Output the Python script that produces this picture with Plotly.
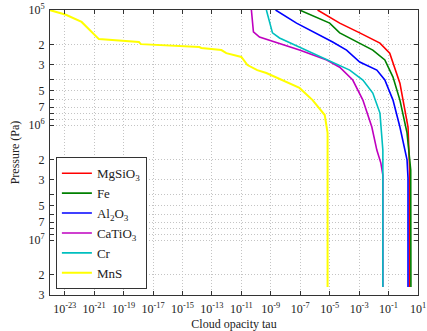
import plotly.graph_objects as go

# ---- data ----
species = ["MgSiO<sub>3</sub>", "Fe", "Al<sub>2</sub>O<sub>3</sub>", "CaTiO<sub>3</sub>", "Cr", "MnS"]
colors = ["#ff0000", "#008000", "#0000ff", "#bf00bf", "#00bfbf", "#ffff00"]

p_mgsio3 = [1.0e5, 1.30e5, 1.58e5, 1.94e5, 2.37e5, 4.32e5, 1.04e6, 2.46e6, 2.56e7]
tau_mgsio3 = [1.5e-6, 4.8e-5, 1.1e-3, 2.6e-2, 0.12, 0.59, 2.1, 2.7, 2.7]

p_fe = [1.0e5, 1.30e5, 1.58e5, 1.82e5, 2.23e5, 2.72e5, 3.83e5, 6.07e5, 1.17e6, 2.46e6, 2.56e7]
tau_fe = [8.9e-8, 1.0e-5, 4.8e-5, 3.7e-4, 8.5e-3, 5.6e-2, 0.20, 0.59, 1.8, 3.2, 3.3]

p_al2o3 = [1.0e5, 1.30e5, 1.90e5, 2.23e5, 2.83e5, 3.33e5, 4.06e5, 6.07e5, 1.04e6, 2.01e6, 2.89e6, 2.56e7]
tau_al2o3 = [2.1e-9, 5.6e-8, 1.6e-5, 1.4e-4, 1.1e-3, 1.6e-2, 5.6e-2, 0.20, 0.59, 1.8, 2.1, 2.1]

p_catio3 = [1.0e5, 1.55e5, 1.72e5, 2.23e5, 2.72e5, 3.14e5, 4.06e5, 6.07e5, 1.04e6, 1.65e6, 2.14e6, 2.72e6, 2.56e7]
tau_catio3 = [4.8e-11, 6.6e-11, 1.7e-10, 8.9e-8, 6.3e-6, 4.8e-5, 3.7e-4, 1.8e-3, 7.3e-3, 1.6e-2, 3.0e-2, 4.1e-2, 4.1e-2]

p_cr = [1.0e5, 1.58e5, 1.75e5, 2.10e5, 2.83e5, 3.33e5, 4.06e5, 5.27e5, 7.87e5, 1.17e6, 1.65e6, 2.56e7]
tau_cr = [5.0e-10, 1.3e-9, 3.9e-9, 8.9e-8, 1.6e-5, 2.3e-4, 1.8e-3, 8.5e-3, 2.6e-2, 3.5e-2, 4.1e-2, 4.1e-2]

p_mns = [1.0e5, 1.10e5, 1.27e5, 1.55e5, 1.79e5, 1.90e5, 1.98e5, 2.10e5, 2.14e5, 2.23e5, 2.37e5,
         2.56e5, 3.01e5, 3.33e5, 3.53e5, 4.76e5, 6.07e5, 8.18e5, 1.17e6, 2.56e7]
tau_mns = [9.5e-25, 1.2e-23, 1.4e-22, 6.9e-22, 2.1e-21, 1.1e-18, 1.5e-18, 1.4e-14, 1.9e-14, 4.4e-13, 9.5e-13,
           1.0e-11, 2.6e-11, 1.2e-10, 5.0e-10, 8.9e-8, 6.9e-7, 4.6e-6, 7.2e-6, 7.2e-6]

pressures = [p_mgsio3, p_fe, p_al2o3, p_catio3, p_cr, p_mns]
taus = [tau_mgsio3, tau_fe, tau_al2o3, tau_catio3, tau_cr, tau_mns]

x_tickvals = [1e-23, 1e-21, 1e-19, 1e-17, 1e-15, 1e-13, 1e-11, 1e-9, 1e-7, 1e-5, 1e-3, 1e-1, 1e1]
x_ticktext = ["10<sup>-23</sup>", "10<sup>-21</sup>", "10<sup>-19</sup>", "10<sup>-17</sup>", "10<sup>-15</sup>",
              "10<sup>-13</sup>", "10<sup>-11</sup>", "10<sup>-9</sup>", "10<sup>-7</sup>", "10<sup>-5</sup>",
              "10<sup>-3</sup>", "10<sup>-1</sup>", "10<sup>1</sup>"]

y_tickvals = [1e5, 2e5, 3e5, 4e5, 5e5, 6e5, 7e5, 8e5, 9e5,
              1e6, 2e6, 3e6, 4e6, 5e6, 6e6, 7e6, 8e6, 9e6,
              1e7, 2e7, 3e7]
y_ticktext = ["10<sup>5</sup>", "2", "3", "", "5", "", "7", "", "",
              "10<sup>6</sup>", "2", "3", "", "5", "", "7", "", "",
              "10<sup>7</sup>", "2", "3"]

FONT = "Liberation Serif"

fig = go.Figure()
for name, col, p, t in zip(species, colors, pressures, taus):
    fig.add_trace(go.Scatter(x=t, y=p, mode="lines", name=name,
                             line=dict(color=col, width=1.6 if name != "MnS" else 2)))

axis_common = dict(showline=True, linecolor="#333333", linewidth=1, mirror="ticks",
                   ticks="inside", ticklen=4, tickcolor="#333333",
                   showgrid=True, gridcolor="#c4c4c4", griddash="1px,2px", gridwidth=1,
                   zeroline=False, automargin=False,
                   tickfont=dict(family=FONT, size=12, color="#222"))

fig.update_xaxes(type="log", range=[-24, 1], tickmode="array", tickvals=x_tickvals, ticktext=x_ticktext,
                 ticklabelstandoff=3,
                 title=dict(text="Cloud opacity tau", font=dict(family=FONT, size=12, color="#222"), standoff=4),
                 **axis_common)
fig.update_yaxes(type="log", range=[7.477, 5], tickmode="array", tickvals=y_tickvals, ticktext=y_ticktext,
                 ticklabelstandoff=2,
                 title=dict(text="Pressure (Pa)", font=dict(family=FONT, size=12, color="#222"), standoff=6),
                 **axis_common)

fig.update_layout(
    width=427, height=331,
    margin=dict(l=50, r=9, t=10, b=36),
    paper_bgcolor="white", plot_bgcolor="white",
    font=dict(family=FONT, color="#222"),
    legend=dict(x=0.016, y=0.02, xanchor="left", yanchor="bottom",
                bgcolor="white", bordercolor="#333333", borderwidth=1,
                font=dict(family=FONT, size=13, color="#222"),
                itemwidth=30, tracegroupgap=0),
)

fig.write_html("out.html")
